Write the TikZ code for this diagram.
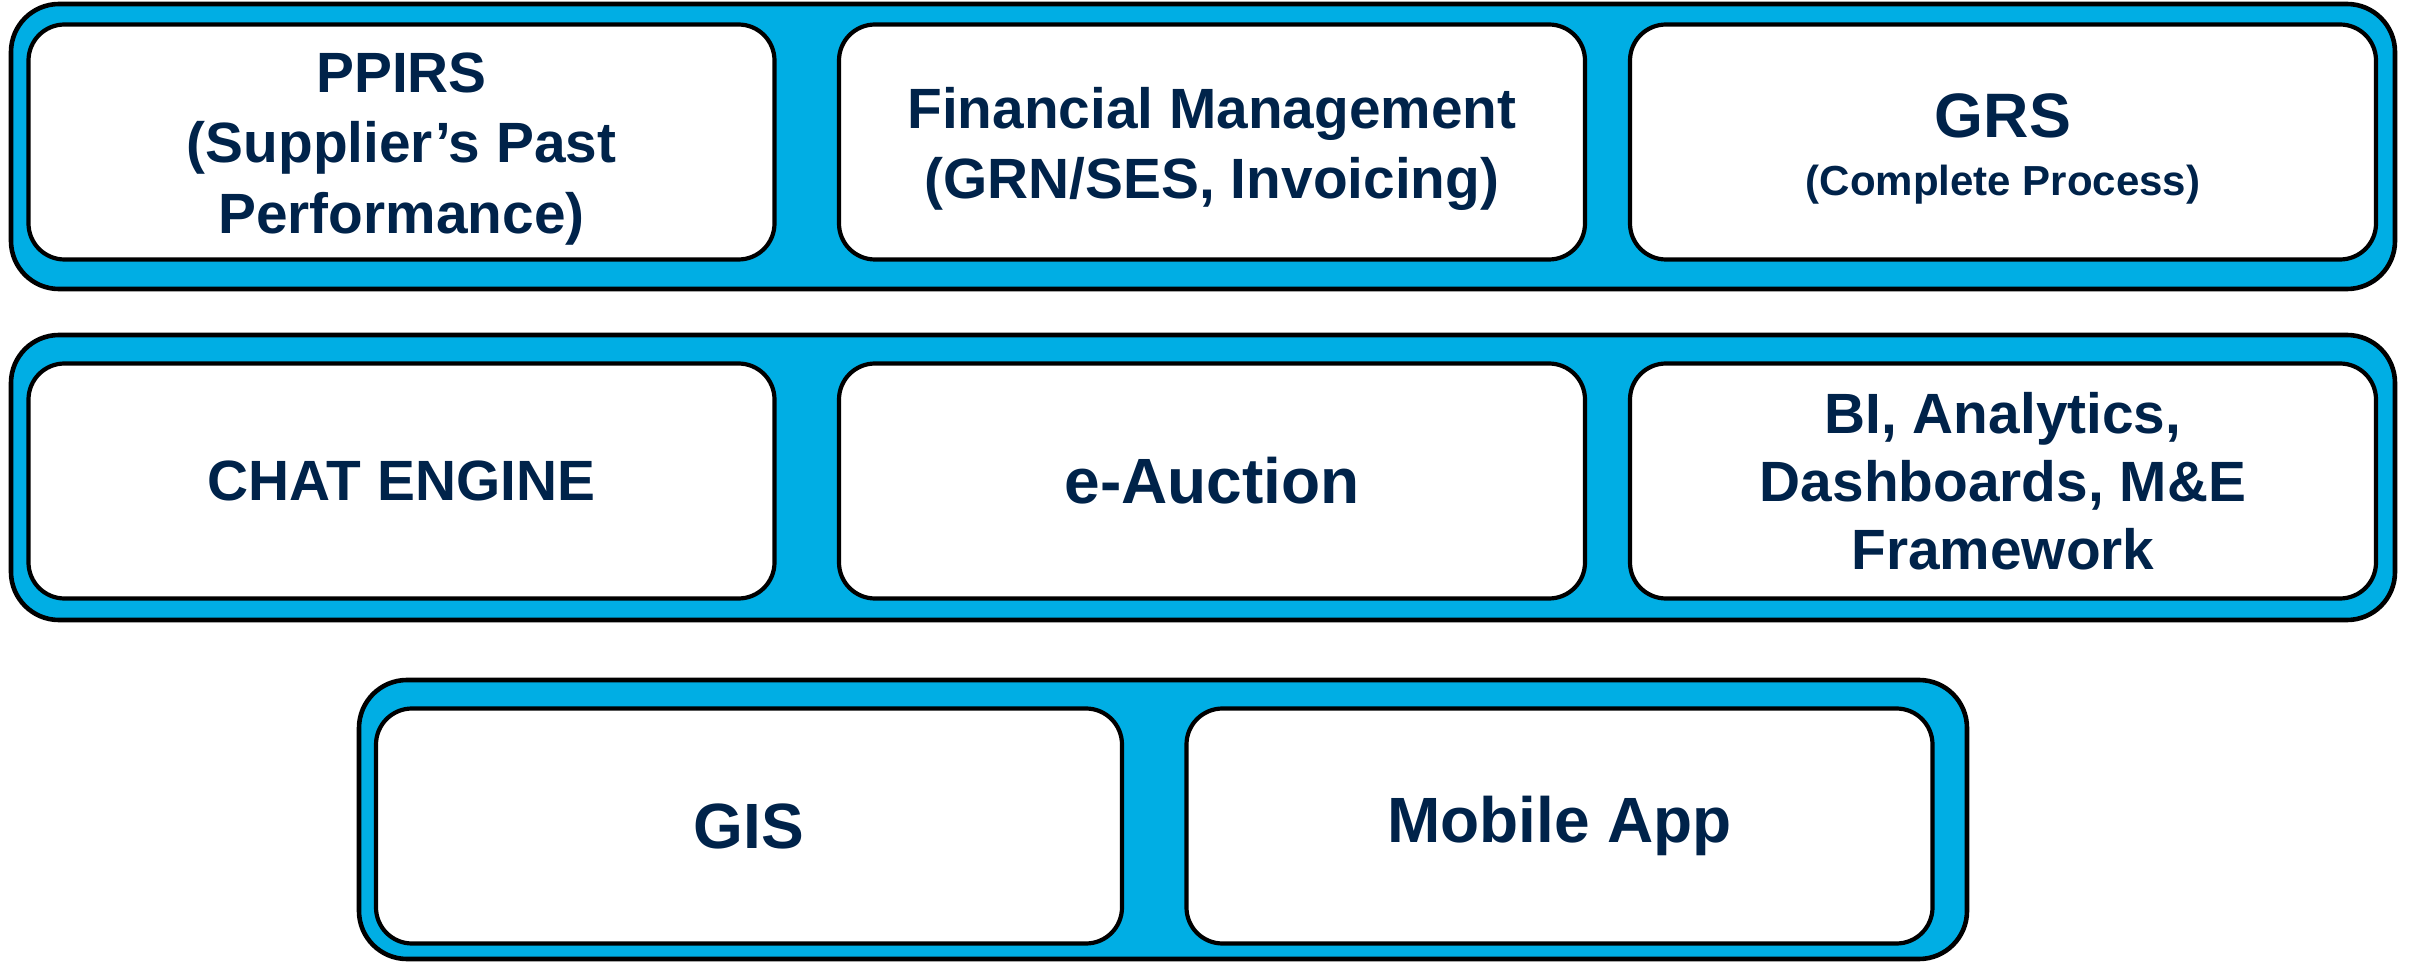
\documentclass[tikz,border=0pt]{standalone}
\usepackage{fontspec}
\setmainfont{Liberation Sans}
\definecolor{bandblue}{HTML}{00AEE4}
\definecolor{navy}{HTML}{00234A}
\tikzset{
  band/.style={draw=black, fill=bandblue, line width=1.15pt, rounded corners=12pt,
    minimum width=#1*0.25pt, inner sep=0pt},
  card/.style={draw=black, fill=white, line width=1.05pt, rounded corners=9pt,
    minimum width=186.5pt, minimum height=58.75pt, inner sep=0pt, align=center,
    text=navy, font=\bfseries\fontsize{14.2}{17}\selectfont},
  toptxt/.style={inner sep=0pt, align=center, text=navy,
    font=\bfseries\fontsize{14.2}{17.6}\selectfont, yshift=-1.7pt},
  bigtxt/.style={font=\bfseries\fontsize{16}{19}\selectfont}
}
\begin{document}
\begin{tikzpicture}[x=0.25pt,y=-0.25pt]
\useasboundingbox (0,0) rectangle (2413,962);
% bands
\node[band=2384, minimum height=71.25pt] (band1) at (1203,146.5) {};
\node[band=2384, minimum height=71.25pt] (band2) at (1203,477.5) {};
\node[band=1608, minimum height=69.75pt] (band3) at (1163,819.5) {};
% row 1
\node[card, label={[toptxt]center:PPIRS\\(Supplier’s Past\\Performance)}] (ppirs) at (401.5,142) {};
\node[card, label={[toptxt]center:Financial Management\\(GRN/SES, Invoicing)}] (fin) at (1212,142) {};
\node[card, label={[toptxt]center:{\fontsize{15.7}{17}\selectfont GRS}\\[-3pt]{\fontsize{10.5}{13}\selectfont (Complete Process)}}] (grs) at (2003,142) {};
% row 2
\node[card] (chat) at (401.5,481) {CHAT ENGINE};
\node[card, bigtxt] (auction) at (1212,481) {e-Auction};
\node[card] (bi) at (2003,481) {BI, Analytics,\\Dashboards, M\&E\\Framework};
% row 3
\node[card, bigtxt] (gis) at (749,826) {GIS};
\node[card, bigtxt] (mobile) at (1559.5,826) {Mobile App};
\end{tikzpicture}
\end{document}
